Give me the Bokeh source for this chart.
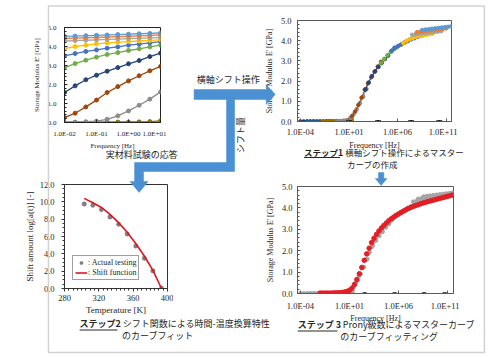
import math
from bokeh.plotting import figure
from bokeh.models import (Range1d, FixedTicker, PrintfTickFormatter,
                          CustomJSTickFormatter, Legend, LegendItem)
from bokeh.layouts import column
from bokeh.embed import file_html
from bokeh.resources import INLINE
from bokeh.core.properties import value

# ---------------- data ----------------
# measured storage modulus E' [GPa] at each test temperature, vs frequency [Hz]
freq_hz = [0.01, 0.0215, 0.0464, 0.1, 0.215, 0.464, 1.0, 2.15, 4.64, 10.0]
E_01 = [4.53, 4.55, 4.57, 4.59, 4.61, 4.63, 4.65, 4.67, 4.69, 4.71]
E_02 = [4.42, 4.44, 4.46, 4.48, 4.50, 4.52, 4.54, 4.56, 4.58, 4.61]
E_03 = [4.29, 4.31, 4.33, 4.35, 4.37, 4.39, 4.41, 4.43, 4.45, 4.47]
E_04 = [3.89, 4.00, 4.07, 4.14, 4.19, 4.23, 4.26, 4.29, 4.32, 4.35]
E_05 = [3.51, 3.63, 3.74, 3.82, 3.91, 3.98, 4.07, 4.12, 4.19, 4.26]
E_06 = [2.89, 3.10, 3.28, 3.44, 3.58, 3.68, 3.79, 3.88, 3.98, 4.07]
E_07 = [1.58, 1.93, 2.25, 2.49, 2.70, 2.89, 3.09, 3.26, 3.47, 3.65]
E_08 = [0.26, 0.49, 0.82, 1.18, 1.58, 1.89, 2.19, 2.46, 2.72, 2.95]
E_09 = [0.00, 0.02, 0.04, 0.07, 0.17, 0.35, 0.61, 0.91, 1.23, 1.61]
E_10 = [0.00, 0.00, 0.01, 0.01, 0.01, 0.02, 0.02, 0.03, 0.05, 0.09]
E_11 = [0.00, 0.00, 0.00, 0.00, 0.00, 0.00, 0.01, 0.01, 0.01, 0.02]
E_12 = [0.00, 0.00, 0.00, 0.00, 0.00, 0.00, 0.00, 0.00, 0.00, 0.01]
curves = [E_01, E_02, E_03, E_04, E_05, E_06, E_07, E_08, E_09, E_10, E_11, E_12]
curve_colors = ["#5B9BD5", "#ED7D31", "#A5A5A5", "#FFC000", "#4472C4", "#70AD47",
                "#264478", "#9E480E", "#8C8C8C", "#997300", "#255E91", "#1F3864"]
# horizontal shift (log10 decades) of each curve in the master curve
master_shift = [10.55, 10.0, 9.5, 8.6, 7.4, 6.3, 4.7, 3.3, 1.8, 0.3, -1.3, -2.0]

# small black marks near zero
marks2_logf = [0.9, 1.1, 3.9, 4.1, 7.3, 7.5, 10.2, 10.4]
marks3_logf = [0.3, 2.55, 5.6, 8.6, 10.7]

# step 2: shift amount vs temperature
temperature_K = [303, 313, 323, 333, 343, 353, 363, 373, 383, 393]
shift_measured = [9.75, 9.6, 9.1, 8.25, 7.4, 6.3, 4.9, 3.5, 2.05, 0.05]
shift_function = [10.4, 9.9, 9.35, 8.55, 7.6, 6.5, 5.2, 3.75, 2.1, 0.0]

# step 3: Prony-series fit of the master curve
fit_logf = [-2.0, -1.75, -1.5, -1.25, -1.0, -0.75, -0.5, -0.25, 0.0, 0.25, 0.5, 0.75,
            1.0, 1.25, 1.5, 1.75, 2.0, 2.25, 2.5, 2.75, 3.0, 3.25, 3.5, 3.75,
            4.0, 4.25, 4.5, 4.75, 5.0, 5.25, 5.5, 5.75, 6.0, 6.25, 6.5, 6.75,
            7.0, 7.25, 7.5, 7.75, 8.0, 8.25, 8.5, 8.75, 9.0, 9.25, 9.5, 9.75,
            10.0, 10.25, 10.5, 10.75, 11.0, 11.25, 11.5]
fit_E = [0.02, 0.02, 0.02, 0.02, 0.02, 0.02, 0.03, 0.03, 0.04, 0.05, 0.07, 0.10,
         0.15, 0.25, 0.42, 0.65, 0.92, 1.22, 1.55, 1.85, 2.12, 2.38, 2.58, 2.76,
         2.92, 3.06, 3.18, 3.29, 3.40, 3.49, 3.57, 3.65, 3.72, 3.79, 3.85, 3.91,
         3.97, 4.02, 4.07, 4.11, 4.15, 4.19, 4.23, 4.26, 4.30, 4.33, 4.36, 4.39,
         4.42, 4.45, 4.48, 4.51, 4.54, 4.57, 4.60]

# tick values
raw_freq_ticks = [0.01, 0.1, 1.0, 10.0]
master_freq_ticks = [1e-4, 1e1, 1e6, 1e11]
modulus_ticks = [0, 1, 2, 3, 4, 5]
modulus_minor = [i * 0.2 for i in range(26)]
temp_ticks = [280, 320, 360, 400]
temp_minor = [280 + 5 * i for i in range(25)]
shift_ticks = [0, 2, 4, 6, 8, 10, 12]
shift_minor = [0.5 * i for i in range(25)]

# ---------------- styling helpers ----------------
SERIF = "Liberation Serif"
JP = "Noto Sans CJK JP"
TXT = "#262626"

EXP_FMT = CustomJSTickFormatter(code="""
const e = Math.round(Math.log10(tick));
const a = Math.abs(e);
return "1.0E" + (e < 0 ? "-" : "+") + (a < 10 ? "0" : "") + a;
""")

placements = []


def panel(fx, fy, fw, fh, bl, bb, bt=4, br=6, **kw):
    w = fw + bl + br
    h = fh + bt + bb
    p = figure(width=w, height=h, min_border_left=bl, min_border_right=br,
               min_border_top=bt, min_border_bottom=bb,
               output_backend="svg", toolbar_location=None, **kw)
    p.background_fill_alpha = 0
    p.border_fill_alpha = 0
    p.xgrid.visible = False
    p.ygrid.visible = False
    placements.append((p, fx - bl, fy - bt, h))
    return p


def style(p, frame_color, tick_size, label_size, tick_in=True,
          xstand=(5, 1), ystand=(5, 3)):
    p.outline_line_color = frame_color
    p.outline_line_width = 1
    for ax, st in ((p.xaxis[0], xstand), (p.yaxis[0], ystand)):
        ax.axis_line_color = frame_color
        ax.major_tick_line_color = frame_color
        ax.minor_tick_line_color = frame_color
        if tick_in:
            ax.major_tick_in, ax.major_tick_out = 3, 0
            ax.minor_tick_in, ax.minor_tick_out = 2, 0
        else:
            ax.major_tick_in, ax.major_tick_out = 0, 3
            ax.minor_tick_in, ax.minor_tick_out = 0, 2
        ax.major_label_text_font = SERIF
        ax.major_label_text_font_size = tick_size
        ax.major_label_text_color = TXT
        ax.axis_label_text_font = SERIF
        ax.axis_label_text_font_size = label_size
        ax.axis_label_text_font_style = "normal"
        ax.axis_label_text_color = TXT
        ax.major_label_standoff = st[0]
        ax.axis_label_standoff = st[1]


# ---------------- panel 1: raw test data ----------------
p1 = panel(61, 27, 99, 95, bl=40, bb=30, x_axis_type="log",
           x_range=Range1d(0.01, 10.0), y_range=Range1d(0, 5))
style(p1, "#222222", "7px", "7px", xstand=(7, 1), ystand=(8, 4))
p1.xaxis.ticker = FixedTicker(ticks=raw_freq_ticks)
p1.xaxis.formatter = EXP_FMT
p1.yaxis.ticker = FixedTicker(ticks=modulus_ticks, minor_ticks=modulus_minor)
p1.yaxis.formatter = PrintfTickFormatter(format="%.1f")
p1.xaxis.axis_label = "Frequency [Hz]"
p1.yaxis.axis_label = "Storage Modulus E' [GPa]"
for E, c in reversed(list(zip(curves, curve_colors))):
    p1.line(freq_hz, E, line_color=c, line_width=1.3)
    p1.scatter(freq_hz, E, size=4, fill_color=c, line_color=c)

# ---------------- panel 2: master curve ----------------
p2 = panel(294, 20, 157, 101, bl=40, bb=32, x_axis_type="log",
           x_range=Range1d(10 ** -4.3, 10 ** 11.56), y_range=Range1d(0, 5))
style(p2, "#595959", "8.5px", "8px", xstand=(5, 1), ystand=(6, 4))
p2.xaxis.ticker = FixedTicker(ticks=master_freq_ticks)
p2.xaxis.formatter = EXP_FMT
p2.yaxis.ticker = FixedTicker(ticks=modulus_ticks, minor_ticks=modulus_minor)
p2.yaxis.formatter = PrintfTickFormatter(format="%.1f")
p2.xaxis.axis_label = "Frequency [Hz]"
p2.yaxis.axis_label = "Storage Modulus E' [GPa]"
for E, c, s in reversed(list(zip(curves, curve_colors, master_shift))):
    xs = [f * 10 ** s for f in freq_hz]
    p2.line(xs, E, line_color=c, line_width=1)
    p2.scatter(xs, E, size=3.6, fill_color=c, line_color=c)
p2.scatter([10 ** v for v in marks2_logf], [0.02] * len(marks2_logf),
           marker="dash", size=4, line_color="#111111", line_width=1.5)

# ---------------- panel 3: Prony fit ----------------
p3 = panel(294, 186, 159, 107, bl=40, bb=32, x_axis_type="log",
           x_range=Range1d(10 ** -4.3, 10 ** 11.6), y_range=Range1d(0, 5))
style(p3, "#595959", "8.5px", "8px", xstand=(7, 0), ystand=(5, 4))
p3.xaxis.ticker = FixedTicker(ticks=master_freq_ticks)
p3.xaxis.formatter = EXP_FMT
p3.yaxis.ticker = FixedTicker(ticks=modulus_ticks, minor_ticks=modulus_minor)
p3.yaxis.formatter = PrintfTickFormatter(format="%.1f")
p3.xaxis.axis_label = "Frequency [Hz]"
p3.yaxis.axis_label = "Storage Modulus E' [GPa]"
for E, s in zip(curves, master_shift):
    xs = [f * 10 ** s for f in freq_hz]
    p3.scatter(xs, E, size=3.8, fill_color="#A5A5A5", line_color="#A5A5A5")
p3.scatter([10 ** v for v in marks3_logf], [0.02] * len(marks3_logf),
           marker="dash", size=4, line_color="#111111", line_width=1.5)
p3.scatter([10 ** v for v in fit_logf], fit_E, size=4.5,
           fill_color="#E41E26", line_color="#E41E26")

# ---------------- panel 4: shift function ----------------
p4 = panel(61, 184, 106, 104, bl=40, bb=30, x_range=Range1d(280, 400),
           y_range=Range1d(0, 12))
style(p4, "#333333", "8.5px", "9px", tick_in=False, xstand=(3, 1), ystand=(7, 2))
p4.xaxis.ticker = FixedTicker(ticks=temp_ticks, minor_ticks=temp_minor)
p4.yaxis.ticker = FixedTicker(ticks=shift_ticks, minor_ticks=shift_minor)
p4.yaxis.formatter = PrintfTickFormatter(format="%.1f")
p4.xaxis.axis_label = "Temperature [K]"
p4.yaxis.axis_label = "Shift amount log[a(t)] [-]"
r_meas = p4.scatter(temperature_K, shift_measured, marker="asterisk", size=5,
                    line_color="#7F7F7F", line_width=1.3)
r_fun = p4.line(temperature_K, shift_function, line_color="#E0141E", line_width=1.6)
leg = Legend(items=[LegendItem(label=": Actual testing", renderers=[r_meas]),
                    LegendItem(label=": Shift function", renderers=[r_fun])],
             location=(8, 8))
leg.label_text_font = SERIF
leg.label_text_font_size = "8px"
leg.label_text_color = TXT
leg.border_line_color = "#404040"
leg.border_line_width = 1
leg.background_fill_color = "white"
leg.background_fill_alpha = 1
leg.padding = 2
leg.spacing = 1
leg.margin = 0
leg.glyph_width = 12
leg.glyph_height = 9
leg.label_height = 9
leg.label_standoff = 1
p4.add_layout(leg)

# ---------------- overlay: frame, arrows, captions (page pixel coordinates) ----
ov = figure(width=498, height=356, x_range=Range1d(0, 498), y_range=Range1d(356, 0),
            output_backend="svg", toolbar_location=None, min_border=0,
            x_axis_location=None, y_axis_location=None)
ov.grid.visible = False
ov.outline_line_color = None
ov.background_fill_alpha = 0
ov.border_fill_alpha = 0
placements.append((ov, 0, 0, 356))

ov.quad(left=[5.5], right=[489], top=[5.5], bottom=[352], fill_alpha=0,
        line_color="#D2D2D2", line_width=1.5)

BLUE = "#4A90D2"
ov.patch([167, 247, 247, 257, 247, 247, 167], [89, 89, 84, 94, 104, 99, 99],
         fill_color=BLUE, line_color=BLUE, line_width=0.5)
ov.patch([203, 212, 212, 111, 111, 116, 106, 96, 101, 101, 203],
         [99, 99, 171, 171, 181, 181, 192, 181, 181, 162, 162],
         fill_color=BLUE, line_color=BLUE, line_width=0.5)
ov.patch([371.5, 377.5, 377.5, 381, 374.5, 368, 371.5],
         [172, 172, 178, 178, 185, 178, 178],
         fill_color=BLUE, line_color=BLUE, line_width=0.5)


def txt(x, y, s, size="9px", align="left", bold=False, angle=0):
    ov.text(x=[x], y=[y], text=[s], text_font=value(JP), text_font_size=size,
            text_align=align, text_baseline="middle", text_color=TXT,
            text_font_style="bold" if bold else "normal", angle=angle)


txt(109, 154, "実材料試験の応答", align="center")
txt(205, 79, "横軸シフト操作", align="center")
txt(218, 134.5, "シフト量", align="center", angle=math.pi / 2)

# step 1 caption
txt(289, 151, "ステップ1", size="8.5px", bold=True)
txt(330, 151, ". 横軸シフト操作によるマスター", size="8.5px")
txt(365, 163, "カーブの作成", size="8.5px", align="center")
ov.segment(x0=[289], y0=[157], x1=[329], y1=[157], line_color=TXT, line_width=1)

# step 2 caption
txt(40, 323, "ステップ2", bold=True)
txt(83, 323, ". シフト関数による時間-温度換算特性")
txt(127, 334.5, "のカーブフィット", align="center")
ov.segment(x0=[40], y0=[329.5], x1=[82], y1=[329.5], line_color=TXT, line_width=1)

# step 3 caption
txt(282, 324, "ステップ 3", bold=True)
txt(327, 324, ". Prony級数によるマスターカーブ")
txt(384, 335.5, "のカーブフィッティング", align="center")
ov.segment(x0=[282], y0=[330.5], x1=[326], y1=[330.5], line_color=TXT, line_width=1)

# ---------------- absolute placement via margins ----------------
cursor = 0
for fig, left, top, h in placements:
    fig.margin = (top - cursor, 0, 0, left)
    cursor = top + h

layout = column(*[pl[0] for pl in placements])
open("out.html", "w").write(file_html(layout, INLINE))
